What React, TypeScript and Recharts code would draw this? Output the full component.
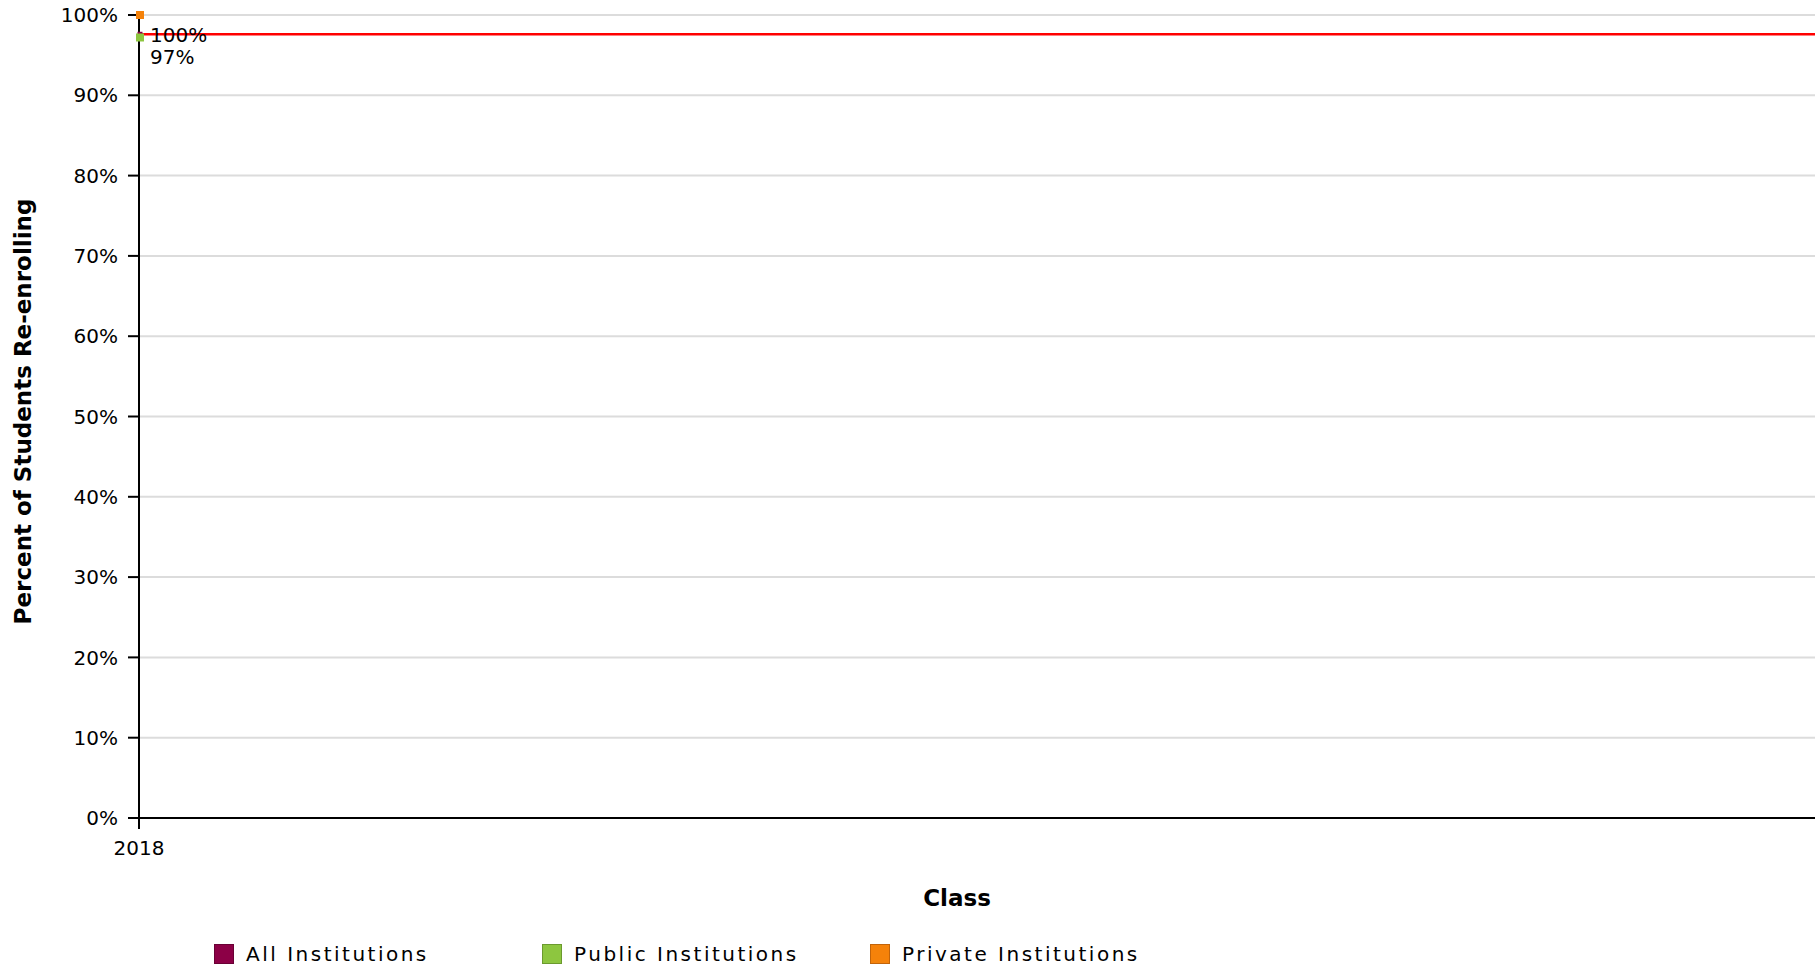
import React from "react";
import {
  LineChart,
  Line,
  XAxis,
  YAxis,
  CartesianGrid,
  ReferenceLine,
  Legend,
  LabelList,
} from "recharts";

const years = [2018];
const allInstitutions = [97.6];
const publicInstitutions = [97.2];
const privateInstitutions = [100];
const benchmarkValue = 97.6;
const yTicks = [0, 10, 20, 30, 40, 50, 60, 70, 80, 90, 100];
const seriesNames = ["All Institutions", "Public Institutions", "Private Institutions"];
const seriesKeys = ["all", "public", "private"];
const seriesColors = ["#8c0046", "#8dc63f", "#f5820a"];
const seriesBorders = ["#6a0035", "#6b9a2e", "#c2640a"];

const data = years.map((year, i) => ({
  year,
  all: allInstitutions[i],
  public: publicInstitutions[i],
  private: privateInstitutions[i],
}));

const FONT = "'DejaVu Sans', Verdana, sans-serif";

const squareDot = (color: string, size: number) => (props: any) => {
  const { cx, cy, key } = props;
  if (cx == null || cy == null) return <g key={key} />;
  return (
    <rect
      key={key}
      x={cx - size / 2 + 1}
      y={cy - size / 2}
      width={size}
      height={size}
      fill={color}
    />
  );
};

const pointLabel = (props: any) => {
  const { x, y, value } = props;
  if (x == null || y == null || value == null) return null;
  return (
    <text
      x={x + 11}
      y={y + 20}
      dy="0.35em"
      fontSize={20}
      fontFamily={FONT}
      fill="#000"
      textAnchor="start"
    >
      {`${Math.round(value)}%`}
    </text>
  );
};

const LegendContent = () => (
  <div style={{ position: "relative", height: 0, overflow: "visible" }}>
    {seriesNames.map((name, i) => (
      <div
        key={name}
        style={{
          position: "absolute",
          left: 214 + i * 328,
          top: 0,
          display: "flex",
          alignItems: "center",
          whiteSpace: "nowrap",
        }}
      >
        <span
          style={{
            display: "inline-block",
            width: 18,
            height: 18,
            background: seriesColors[i],
            border: `1px solid ${seriesBorders[i]}`,
            marginRight: 12,
          }}
        />
        <span
          style={{
            fontFamily: FONT,
            fontSize: 20,
            letterSpacing: 2.5,
            color: "#000",
          }}
        >
          {name}
        </span>
      </div>
    ))}
  </div>
);

export default function App() {
  return (
    <div style={{ position: "absolute", left: 0, top: 0, width: 1815, height: 970, background: "#fff" }}>
      <LineChart
        width={1815}
        height={970}
        data={data}
        margin={{ top: 15, right: 0, left: 0, bottom: 92 }}
        style={{ fontFamily: FONT }}
      >
        <CartesianGrid horizontal vertical={false} stroke="#dcdcdc" strokeWidth={2} />
        <XAxis
          dataKey="year"
          type="number"
          domain={[2018, 2019]}
          ticks={[2018]}
          height={60}
          tickSize={11}
          tickMargin={12}
          axisLine={{ stroke: "#000", strokeWidth: 2 }}
          tickLine={{ stroke: "#000", strokeWidth: 2 }}
          tick={{ fill: "#000", fontSize: 20, fontFamily: FONT }}
          label={(props: any) => {
            const vb = props.viewBox || {};
            return (
              <text
                x={vb.x + vb.width / 2 - 20}
                y={vb.y + 80}
                dy="0.35em"
                textAnchor="middle"
                fontWeight="bold"
                fontSize={23}
                fontFamily={FONT}
                fill="#000"
              >
                Class
              </text>
            );
          }}
        />
        <YAxis
          type="number"
          domain={[0, 100]}
          ticks={yTicks}
          width={139}
          tickSize={11}
          tickMargin={10}
          tickFormatter={(v: number) => `${v}%`}
          axisLine={{ stroke: "#000", strokeWidth: 2 }}
          tickLine={{ stroke: "#000", strokeWidth: 2 }}
          tick={{ fill: "#000", fontSize: 20, fontFamily: FONT }}
          label={(props: any) => {
            const vb = props.viewBox || {};
            const cx = 23;
            const cy = vb.y + vb.height / 2 - 5;
            return (
              <text
                x={cx}
                y={cy}
                dy="0.35em"
                transform={`rotate(-90, ${cx}, ${cy})`}
                textAnchor="middle"
                fontWeight="bold"
                fontSize={23}
                fontFamily={FONT}
                fill="#000"
              >
                Percent of Students Re-enrolling
              </text>
            );
          }}
        />
        <Legend
          verticalAlign="bottom"
          content={<LegendContent />}
          wrapperStyle={{ position: "absolute", left: 0, top: 942, bottom: "auto", width: 1815 }}
        />
        {seriesKeys.map((k, i) => (
          <Line
            key={k}
            dataKey={k}
            name={seriesNames[i]}
            stroke={seriesColors[i]}
            strokeWidth={2}
            isAnimationActive={false}
            dot={squareDot(seriesColors[i], k === "all" ? 5 : 8)}
            activeDot={false}
          >
            {k !== "all" && <LabelList dataKey={k} content={pointLabel} />}
          </Line>
        ))}
        <ReferenceLine y={benchmarkValue} stroke="#ff0000" strokeWidth={2.5} />
      </LineChart>
    </div>
  );
}
